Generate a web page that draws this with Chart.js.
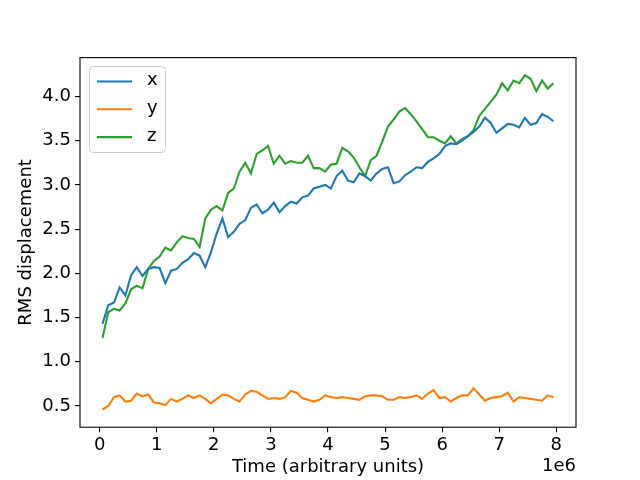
<!DOCTYPE html>
<html>
<head>
<meta charset="utf-8">
<script src="https://cdn.jsdelivr.net/npm/chart.js@4.4.1/dist/chart.umd.min.js"></script>
<style>
  html, body { margin: 0; padding: 0; background: #fff; }
  #wrap { width: 640px; height: 480px; }
</style>
</head>
<body>
<div id="wrap"><canvas id="chart" width="640" height="480"></canvas></div>
<script>
// time in units of 1e6
const times = [
    0.05, 0.15, 0.25, 0.35, 0.45, 0.55, 0.65, 0.75, 0.85, 0.95,
    1.05, 1.15, 1.25, 1.35, 1.45, 1.55, 1.65, 1.75, 1.85, 1.95,
    2.05, 2.15, 2.25, 2.35, 2.45, 2.55, 2.65, 2.75, 2.85, 2.95,
    3.05, 3.15, 3.25, 3.35, 3.45, 3.55, 3.65, 3.75, 3.85, 3.95,
    4.05, 4.15, 4.25, 4.35, 4.45, 4.55, 4.65, 4.75, 4.85, 4.95,
    5.05, 5.15, 5.25, 5.35, 5.45, 5.55, 5.65, 5.75, 5.85, 5.95,
    6.05, 6.15, 6.25, 6.35, 6.45, 6.55, 6.65, 6.75, 6.85, 6.95,
    7.05, 7.15, 7.25, 7.35, 7.45, 7.55, 7.65, 7.75, 7.85, 7.95
];

const rmsX = [
    1.43, 1.64, 1.67, 1.84, 1.75, 1.98, 2.07, 1.97, 2.05, 2.07,
    2.06, 1.89, 2.03, 2.05, 2.12, 2.16, 2.23, 2.20, 2.07, 2.24,
    2.45, 2.62, 2.41, 2.47, 2.56, 2.60, 2.74, 2.78, 2.68, 2.72,
    2.80, 2.69, 2.76, 2.81, 2.79, 2.86, 2.88, 2.96, 2.98, 3.00,
    2.96, 3.10, 3.16, 3.05, 3.03, 3.13, 3.10, 3.05, 3.13, 3.18,
    3.20, 3.02, 3.04, 3.11, 3.15, 3.20, 3.19, 3.26, 3.30, 3.35,
    3.44, 3.47, 3.46, 3.50, 3.55, 3.60, 3.66, 3.76, 3.70, 3.59,
    3.64, 3.69, 3.68, 3.65, 3.76, 3.68, 3.70, 3.80, 3.77, 3.72
];

const rmsY = [
    0.46, 0.50, 0.60, 0.62, 0.55, 0.56, 0.64, 0.61, 0.63, 0.54,
    0.53, 0.51, 0.58, 0.55, 0.58, 0.62, 0.59, 0.62, 0.58, 0.53,
    0.58, 0.63, 0.62, 0.58, 0.55, 0.63, 0.67, 0.66, 0.62, 0.58,
    0.59, 0.58, 0.60, 0.67, 0.65, 0.59, 0.57, 0.55, 0.57, 0.62,
    0.60, 0.59, 0.60, 0.59, 0.58, 0.57, 0.61, 0.62, 0.62, 0.61,
    0.57, 0.57, 0.60, 0.59, 0.60, 0.62, 0.58, 0.64, 0.68, 0.59,
    0.60, 0.55, 0.59, 0.62, 0.62, 0.70, 0.63, 0.56, 0.59, 0.60,
    0.61, 0.65, 0.55, 0.60, 0.59, 0.58, 0.57, 0.56, 0.62, 0.60
];

const rmsZ = [
    1.27, 1.56, 1.60, 1.58, 1.66, 1.82, 1.86, 1.83, 2.05, 2.14,
    2.19, 2.29, 2.26, 2.35, 2.42, 2.40, 2.39, 2.30, 2.62, 2.72,
    2.76, 2.71, 2.91, 2.96, 3.15, 3.25, 3.13, 3.35, 3.39, 3.44,
    3.24, 3.33, 3.24, 3.27, 3.25, 3.25, 3.33, 3.19, 3.19, 3.15,
    3.23, 3.24, 3.42, 3.38, 3.31, 3.20, 3.10, 3.28, 3.33, 3.49,
    3.66, 3.74, 3.83, 3.87, 3.80, 3.72, 3.63, 3.54, 3.54, 3.50,
    3.47, 3.55, 3.47, 3.52, 3.55, 3.62, 3.78, 3.86, 3.94, 4.02,
    4.15, 4.07, 4.18, 4.15, 4.24, 4.20, 4.06, 4.18, 4.09, 4.15
];

const xTicks = [0, 1, 2, 3, 4, 5, 6, 7, 8];
const yTicks = [0.5, 1.0, 1.5, 2.0, 2.5, 3.0, 3.5, 4.0];

const seriesNames = ['x', 'y', 'z'];
const seriesColors = ['#1f77b4', '#ff7f0e', '#2ca02c'];

const FONT = "'DejaVu Sans', sans-serif";
const FONT_SIZE = 18;
Chart.defaults.font.family = FONT;
Chart.defaults.font.size = FONT_SIZE;
Chart.defaults.color = '#000';

const toPoints = (vals) => vals.map((v, i) => ({ x: times[i], y: v }));

// frame, legend box and the 1e6 offset label, matplotlib style
const mplDecor = {
    id: 'mplDecor',
    afterDatasetsDraw(chart) {
        const { ctx, chartArea: a } = chart;
        ctx.save();
        ctx.strokeStyle = '#000';
        ctx.lineWidth = 1.1;
        ctx.strokeRect(a.left, a.top, a.right - a.left, a.bottom - a.top);

        // legend
        const bx = 89.5, by = 66.5, bw = 76, bh = 86, r = 4;
        ctx.beginPath();
        ctx.roundRect(bx, by, bw, bh, r);
        ctx.fillStyle = 'rgba(255,255,255,0.8)';
        ctx.fill();
        ctx.strokeStyle = '#cccccc';
        ctx.lineWidth = 1;
        ctx.stroke();

        ctx.font = FONT_SIZE + 'px ' + FONT;
        ctx.textBaseline = 'middle';
        ctx.textAlign = 'left';
        seriesNames.forEach((name, i) => {
            const ly = 81.5 + i * 27.8;
            ctx.beginPath();
            ctx.moveTo(97, ly);
            ctx.lineTo(132, ly);
            ctx.strokeStyle = seriesColors[i];
            ctx.lineWidth = 2.1;
            ctx.stroke();
            ctx.fillStyle = '#000';
            ctx.fillText(name, 147, ly - 1);
        });

        ctx.textAlign = 'right';
        ctx.fillText('1e6', a.right, 466);
        ctx.restore();
    }
};

new Chart(document.getElementById('chart'), {
    type: 'line',
    data: {
        datasets: seriesNames.map((name, i) => ({
            label: name,
            data: toPoints([rmsX, rmsY, rmsZ][i]),
            borderColor: seriesColors[i],
            backgroundColor: seriesColors[i],
            borderWidth: 2.1,
            pointRadius: 0,
            tension: 0,
            fill: false
        }))
    },
    options: {
        responsive: false,
        animation: false,
        layout: { padding: { left: 0, right: 64, top: 57.6, bottom: 0 } },
        plugins: {
            legend: { display: false },
            tooltip: { enabled: false }
        },
        scales: {
            x: {
                type: 'linear',
                min: -0.345,
                max: 8.345,
                afterBuildTicks: (s) => { s.ticks = xTicks.map(v => ({ value: v })); },
                afterFit: (s) => { s.height = 52.8; },
                ticks: { padding: 2, maxRotation: 0, callback: (v) => String(v) },
                grid: { display: true, drawOnChartArea: false, drawTicks: true, tickLength: 5, color: '#000', lineWidth: 1.1 },
                border: { display: false },
                title: { display: true, text: 'Time (arbitrary units)', padding: { top: 0, bottom: 2 } }
            },
            y: {
                type: 'linear',
                min: 0.26,
                max: 4.44,
                afterBuildTicks: (s) => { s.ticks = yTicks.map(v => ({ value: v })); },
                afterFit: (s) => { s.width = 80; },
                ticks: { padding: 4, callback: (v) => v.toFixed(1) },
                grid: { display: true, drawOnChartArea: false, drawTicks: true, tickLength: 5, color: '#000', lineWidth: 1.1 },
                border: { display: false },
                title: { display: true, text: 'RMS displacement', padding: { top: 16, bottom: 0 } }
            }
        }
    },
    plugins: [mplDecor]
});
</script>
</body>
</html>
